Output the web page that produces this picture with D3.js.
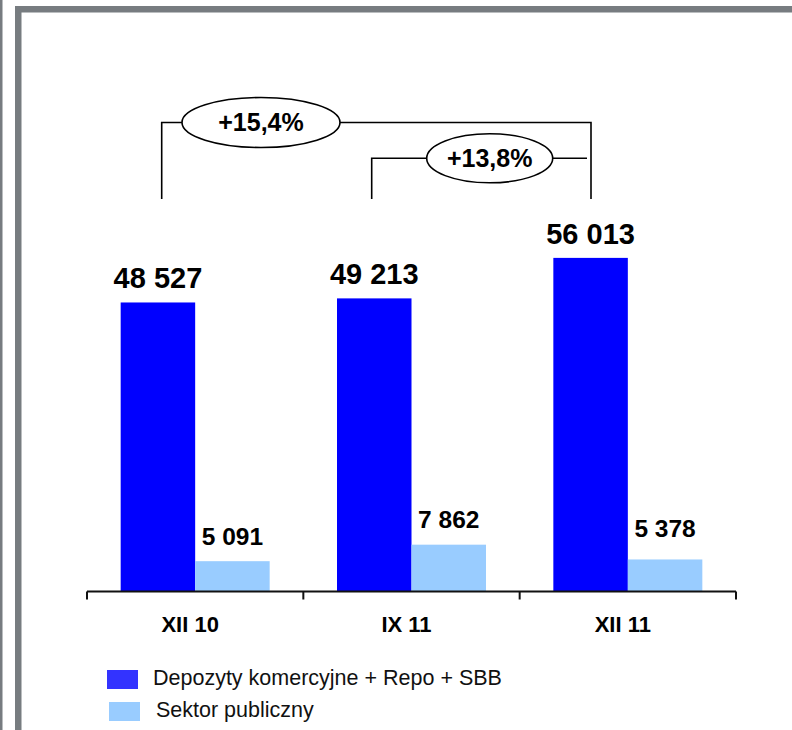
<!DOCTYPE html>
<html><head><meta charset="utf-8">
<script src="https://cdn.jsdelivr.net/npm/d3@7"></script>
<style>body{margin:0;background:#fff} svg{display:block;font-family:Arial,"Liberation Sans",sans-serif}</style>
</head><body><svg id="c" width="792" height="730"></svg>
<script>
const categories = ["XII 10", "IX 11", "XII 11"];
const seriesNames = ["Depozyty komercyjne + Repo + SBB", "Sektor publiczny"];
const depozyty = [48527, 49213, 56013];
const sektor = [5091, 7862, 5378];
const growthLabels = ["+15,4%", "+13,8%"];

const barColors = ["#0000FF", "#99CCFF"];
const legendColors = ["#3333FF", "#99CCFF"];
const frameColor = "#777c80";

const svg = d3.select("#c");
const fmt = d3.formatLocale({decimal: ",", thousands: " ", grouping: [3], currency: ["", ""]}).format(",d");

// frame
svg.append("rect").attr("x", 0).attr("y", 0).attr("width", 2.5).attr("height", 730).attr("fill", frameColor);
svg.append("rect").attr("x", 15).attr("y", 6).attr("width", 6.5).attr("height", 724).attr("fill", frameColor);
svg.append("rect").attr("x", 15).attr("y", 6).attr("width", 777).attr("height", 6.5).attr("fill", frameColor);

const baseY = 591.5;
const x0 = d3.scaleBand().domain(categories).range([87, 736]).paddingInner(0).paddingOuter(0);
const x1 = d3.scaleBand().domain([0, 1]).range([0, x0.bandwidth()]).paddingInner(0).paddingOuter(0.452);
const y = d3.scaleLinear().domain([0, 60000]).range([baseY, baseY - 60000 * 0.005956]);

const series = [depozyty, sektor];
const labelOffsets = [[14, 14, 14], [16, 17, 22]];
const labelSize = [29, 24.5];

series.forEach((vals, si) => {
  const g = svg.append("g");
  g.selectAll("rect").data(vals).join("rect")
    .attr("x", (d, i) => x0(categories[i]) + x1(si))
    .attr("y", d => y(d))
    .attr("width", x1.bandwidth())
    .attr("height", d => y(0) - y(d))
    .attr("fill", barColors[si]);
  g.selectAll("text").data(vals).join("text")
    .attr("x", (d, i) => x0(categories[i]) + x1(si) + x1.bandwidth() / 2)
    .attr("y", (d, i) => y(d) - labelOffsets[si][i])
    .attr("text-anchor", "middle")
    .attr("font-weight", "bold")
    .attr("font-size", labelSize[si])
    .attr("fill", "#000")
    .text(d => fmt(d));
});

// axis
const ax = svg.append("g");
ax.append("line").attr("x1", 87).attr("x2", 736).attr("y1", baseY).attr("y2", baseY)
  .attr("stroke", "#111").attr("stroke-width", 2);
const bounds = categories.map(c => x0(c)).concat([x0.range()[1]]);
ax.selectAll("line.tick").data(bounds).join("line").attr("class", "tick")
  .attr("x1", d => d).attr("x2", d => d).attr("y1", baseY).attr("y2", baseY + 8)
  .attr("stroke", "#111").attr("stroke-width", 2);
ax.selectAll("text").data(categories).join("text")
  .attr("x", d => x0(d) + x0.bandwidth() / 2 - 5)
  .attr("y", 632)
  .attr("text-anchor", "middle")
  .attr("font-weight", "bold")
  .attr("font-size", 22)
  .text(d => d);

// growth brackets
const brackets = [
  {top: 122.5, bottom: 199, cx: 261, rx: 79, ry: 25, label: growthLabels[0], rightDrop: true, lx: 161.7, rxp: 591},
  {top: 158.3, bottom: 199, cx: 489.7, rx: 63, ry: 24.5, label: growthLabels[1], rightDrop: false, lx: 371.7, rxp: 587}
];
const bg = svg.append("g").attr("stroke", "#000").attr("stroke-width", 1.6).attr("fill", "none");
brackets.forEach(b => {
  const p = d3.path();
  p.moveTo(b.lx, b.bottom); p.lineTo(b.lx, b.top); p.lineTo(b.rxp, b.top);
  if (b.rightDrop) p.lineTo(b.rxp, b.bottom);
  bg.append("path").attr("d", p.toString());
  bg.append("ellipse").attr("cx", b.cx).attr("cy", b.top).attr("rx", b.rx).attr("ry", b.ry).attr("fill", "#fff");
  svg.append("text").attr("x", b.cx).attr("y", b.top + 8.5)
    .attr("text-anchor", "middle").attr("font-weight", "bold").attr("font-size", 25)
    .text(b.label);
});

// legend
const legend = [
  {sx: 107, sy: 670, tx: 153, ty: 684.5},
  {sx: 109, sy: 702, tx: 156, ty: 717}
];
seriesNames.forEach((n, i) => {
  svg.append("rect").attr("x", legend[i].sx).attr("y", legend[i].sy).attr("width", 31).attr("height", 19)
    .attr("fill", legendColors[i]);
  svg.append("text").attr("x", legend[i].tx).attr("y", legend[i].ty)
    .attr("font-size", 21.5).attr("fill", "#111").text(n);
});
</script></body></html>
